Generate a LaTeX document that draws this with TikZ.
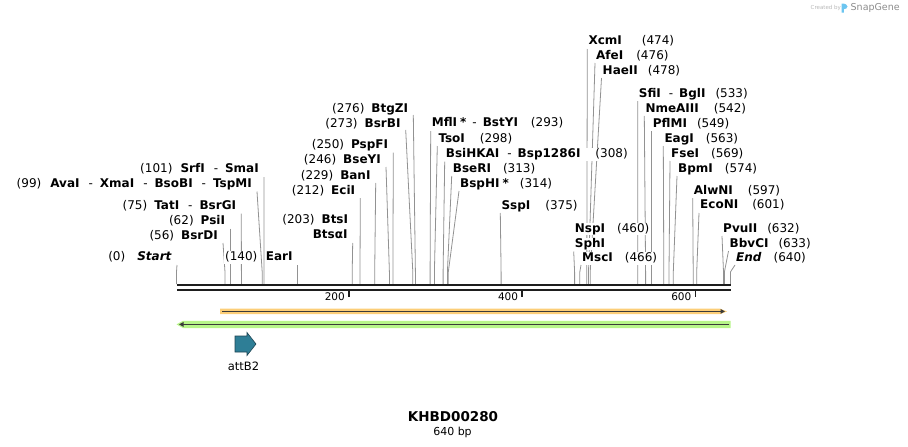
\documentclass[tikz,border=0pt]{standalone}
\usepackage{fontspec}
\setmainfont{DejaVu Sans}
\usetikzlibrary{calc,backgrounds,arrows.meta}
\definecolor{lncol}{HTML}{929292}
\definecolor{bbcol}{HTML}{1E1E1E}
\definecolor{orcol}{RGB}{252,206,120}
\definecolor{grcol}{RGB}{183,245,137}
\definecolor{darkln}{HTML}{3A3A3A}
\definecolor{featcol}{RGB}{46,126,150}
\definecolor{featdark}{HTML}{1D4452}
\definecolor{logoblue}{RGB}{108,197,240}
\tikzset{
  lab/.style={fill=white, inner xsep=1pt, inner ysep=0.5pt, text height=9pt, text depth=2.5pt,
              font=\fontsize{12}{14}\selectfont\bfseries},
  labL/.style={lab, anchor=east},
  labR/.style={lab, anchor=west},
  ln/.style={draw=lncol, line width=0.8pt},
  bbline/.style={draw=bbcol},
  darkarrow/.style={draw=darkln, line width=1.5pt, -{Triangle[length=4.5pt,width=4.5pt]}},
}
\newcommand\nb[1]{{\fontsize{12}{14}\selectfont\mdseries #1}}
\newcommand\sepx{\hspace{9pt}{\mdseries -}\hspace{7pt}}
% left-placed label: name, label y, line-top x, line-top y, site x, text
\newcommand\enzL[6]{%
  \node[labL] (#1) at ({#3-4},{#2-1}) {#6};
  \coordinate (#1-k) at (#5,272);
  \coordinate (#1-s) at (#5,284);
  \begin{scope}[on background layer]
    \draw[ln] ($(#1.east)+(4,{#4-#2+1})$) -- (#1-k) -- (#1-s);
  \end{scope}}
% right-placed label
\newcommand\enzR[6]{%
  \node[labR] (#1) at (#3,{#2-1}) {#6};
  \coordinate (#1-k) at (#5,272);
  \coordinate (#1-s) at (#5,284);
  \begin{scope}[on background layer]
    \draw[ln] ($(#1.west)+(0,{#4-#2+1})$) -- (#1-k) -- (#1-s);
  \end{scope}}
\begin{document}
\begin{tikzpicture}[x=1pt,y=-1pt]
\path[use as bounding box] (0,0) rectangle (908,447);

% backbone
\draw[bbline, line width=2.6pt] (177,285) -- (731,285);
\draw[bbline, line width=2.2pt] (177,289.6) -- (731,289.6);
\foreach \x/\t in {349/200, 522.3/400, 695.5/600}{
  \draw[bbline, line width=1.8pt] (\x,290.5) -- (\x,297.2);
  \node[anchor=base east, inner sep=0, font=\fontsize{10.5}{12}\selectfont] (tick\t) at ({\x-4},300.3) {\t};
}

% left cluster
\enzL{start}{258.3}{177}{265}{176.5}{\nb{(0)}\hspace{12pt}\textit{Start}}
\enzL{earI}{258.3}{297.7}{265}{297.7}{EarI}
\node[lab, anchor=east] (earInum) at ($(earI.west)+(-6,0)$) {\nb{(140)}};
\enzL{bsrDI}{237.3}{223}{243}{225.0}{\nb{(56)}\hspace{7pt}BsrDI}
\enzL{psiI}{222.3}{230.2}{228.5}{230.2}{\nb{(62)}\hspace{7pt}PsiI}
\enzL{tatI}{207.3}{241.3}{213.5}{241.4}{\nb{(75)}\hspace{7pt}TatI\sepx BsrGI}
\enzL{avaI}{185}{257}{191.5}{262.2}{\nb{(99)}\hspace{9pt}AvaI\sepx XmaI\sepx BsoBI\sepx TspMI}
\enzL{srfI}{170.7}{264}{177}{263.9}{\nb{(101)}\hspace{8pt}SrfI\sepx SmaI}

% middle cluster
\node[labL] (btsI) at (349.3,220.7) {\nb{(203)}\hspace{7pt}BtsI};
\enzL{btsaI}{236.7}{352.7}{243}{352.2}{BtsαI}
\enzL{eciI}{192.7}{360.3}{198}{360.0}{\nb{(212)}\hspace{7pt}EciI}
\enzL{banI}{177.3}{375.7}{183}{374.7}{\nb{(229)}\hspace{7pt}BanI}
\enzL{bseYI}{161.7}{386}{167}{389.4}{\nb{(246)}\hspace{7pt}BseYI}
\enzL{pspFI}{146.7}{393.3}{152.7}{392.9}{\nb{(250)}\hspace{7pt}PspFI}
\enzL{bsrBI}{125}{405.7}{130}{412.8}{\nb{(273)}\hspace{7pt}BsrBI}
\enzL{btgZI}{110}{413.3}{115}{415.4}{\nb{(276)}\hspace{7pt}BtgZI}

\enzR{mflI}{124.3}{430.7}{131}{430.1}{MflI\hspace{3pt}*\hspace{6pt}{\mdseries -}\hspace{6pt}BstYI\hspace{13pt}\nb{(293)}}
\enzR{tsoI}{140}{437.3}{146}{434.4}{TsoI\hspace{15pt}\nb{(298)}}
\enzR{bsiHKAI}{155.7}{444.7}{161.7}{443.1}{BsiHKAI\hspace{8pt}{\mdseries -}\hspace{6pt}Bsp1286I\hspace{15pt}\nb{(308)}}
\enzR{bseRI}{170.3}{451.7}{176}{447.4}{BseRI\hspace{12pt}\nb{(313)}}
\enzR{bspHI}{185}{459}{191}{448.3}{BspHI\hspace{3pt}*\hspace{11pt}\nb{(314)}}
\enzR{sspI}{207.3}{500.3}{213}{501.1}{SspI\hspace{15pt}\nb{(375)}}

% right cluster
\enzR{xcmI}{42.5}{587.3}{49}{586.8}{XcmI\hspace{20pt}\nb{(474)}}
\enzR{afeI}{57}{595}{63}{588.5}{AfeI\hspace{13pt}\nb{(476)}}
\enzR{haeII}{72}{601.5}{78}{590.2}{HaeII\hspace{10pt}\nb{(478)}}
\enzR{sfiI}{95}{637.7}{101}{637.8}{SfiI\hspace{8pt}{\mdseries -}\hspace{6pt}BglI\hspace{10pt}\nb{(533)}}
\enzR{nmeAIII}{110}{644.3}{116}{645.6}{NmeAIII\hspace{15pt}\nb{(542)}}
\enzR{pflMI}{125}{651.7}{131}{651.7}{PflMI\hspace{10pt}\nb{(549)}}
\enzR{eagI}{140}{663.3}{146}{663.8}{EagI\hspace{12pt}\nb{(563)}}
\enzR{fseI}{155}{670}{161}{669.0}{FseI\hspace{12pt}\nb{(569)}}
\enzR{bpmI}{170}{677}{176}{673.3}{BpmI\hspace{12pt}\nb{(574)}}
\enzR{alwNI}{192.3}{692.7}{198}{693.2}{AlwNI\hspace{15pt}\nb{(597)}}
\enzR{ecoNI}{206.7}{699}{213}{696.7}{EcoNI\hspace{14pt}\nb{(601)}}
\node[labR] (nspI) at (573.7,229) {NspI\hspace{12pt}\nb{(460)}};
\enzR{sphI}{245}{573.7}{251.5}{574.6}{SphI}
\enzR{mscI}{259.3}{581}{265}{579.8}{MscI\hspace{12pt}\nb{(466)}}
\enzR{pvuII}{230}{722}{236}{723.5}{PvuII\hspace{10pt}\nb{(632)}}
\enzR{bbvCI}{245}{728.5}{251}{724.4}{BbvCI\hspace{10pt}\nb{(633)}}
\enzR{endL}{259}{735}{265}{730.4}{\textit{End}\hspace{12pt}\nb{(640)}}

% features
\fill[orcol] (220,308.6) -- (720,308.6) -- (727,311.4) -- (720,314.2) -- (220,314.2) -- cycle;
\draw[darkarrow] (222,311.4) -- (725,311.4);
\fill[grcol] (730.5,320.8) -- (183,320.8) -- (176.5,324.4) -- (183,328) -- (730.5,328) -- cycle;
\draw[darkarrow] (729,324.4) -- (179,324.4);

\filldraw[fill=featcol, draw=featdark, line width=0.6pt]
  (235,336) -- (247,336) -- (247,332.5) -- (256,344) -- (247,355.5) -- (247,352) -- (235,352) -- cycle;
\node[font=\fontsize{11.5}{13}\selectfont, inner sep=0] (attB2) at (243.5,366) {attB2};

% title
\node[font=\fontsize{13.5}{16}\selectfont\bfseries, inner sep=0] (title) at (453,416.5) {KHBD00280};
\node[font=\fontsize{11}{13}\selectfont, inner sep=0] (len) at (452.5,432) {640 bp};

% watermark
\node[anchor=west, inner sep=0, text=black!28, font=\fontsize{5.5}{7}\selectfont] (createdby) at (810.5,7.5) {Created by};
\fill[logoblue] (841.5,12.5) -- (841.5,3.5) .. controls (845.5,3.5) and (847.5,4.8) .. (847.5,6.5)
  .. controls (847.5,8.2) and (845.5,9.2) .. (843.8,9.2) -- (843.8,12.5) -- cycle;
\node[anchor=west, inner sep=0, text=black!45, font=\fontsize{9.5}{11}\selectfont] (snapgene) at (850.5,7.5) {SnapGene};
\end{tikzpicture}
\end{document}
